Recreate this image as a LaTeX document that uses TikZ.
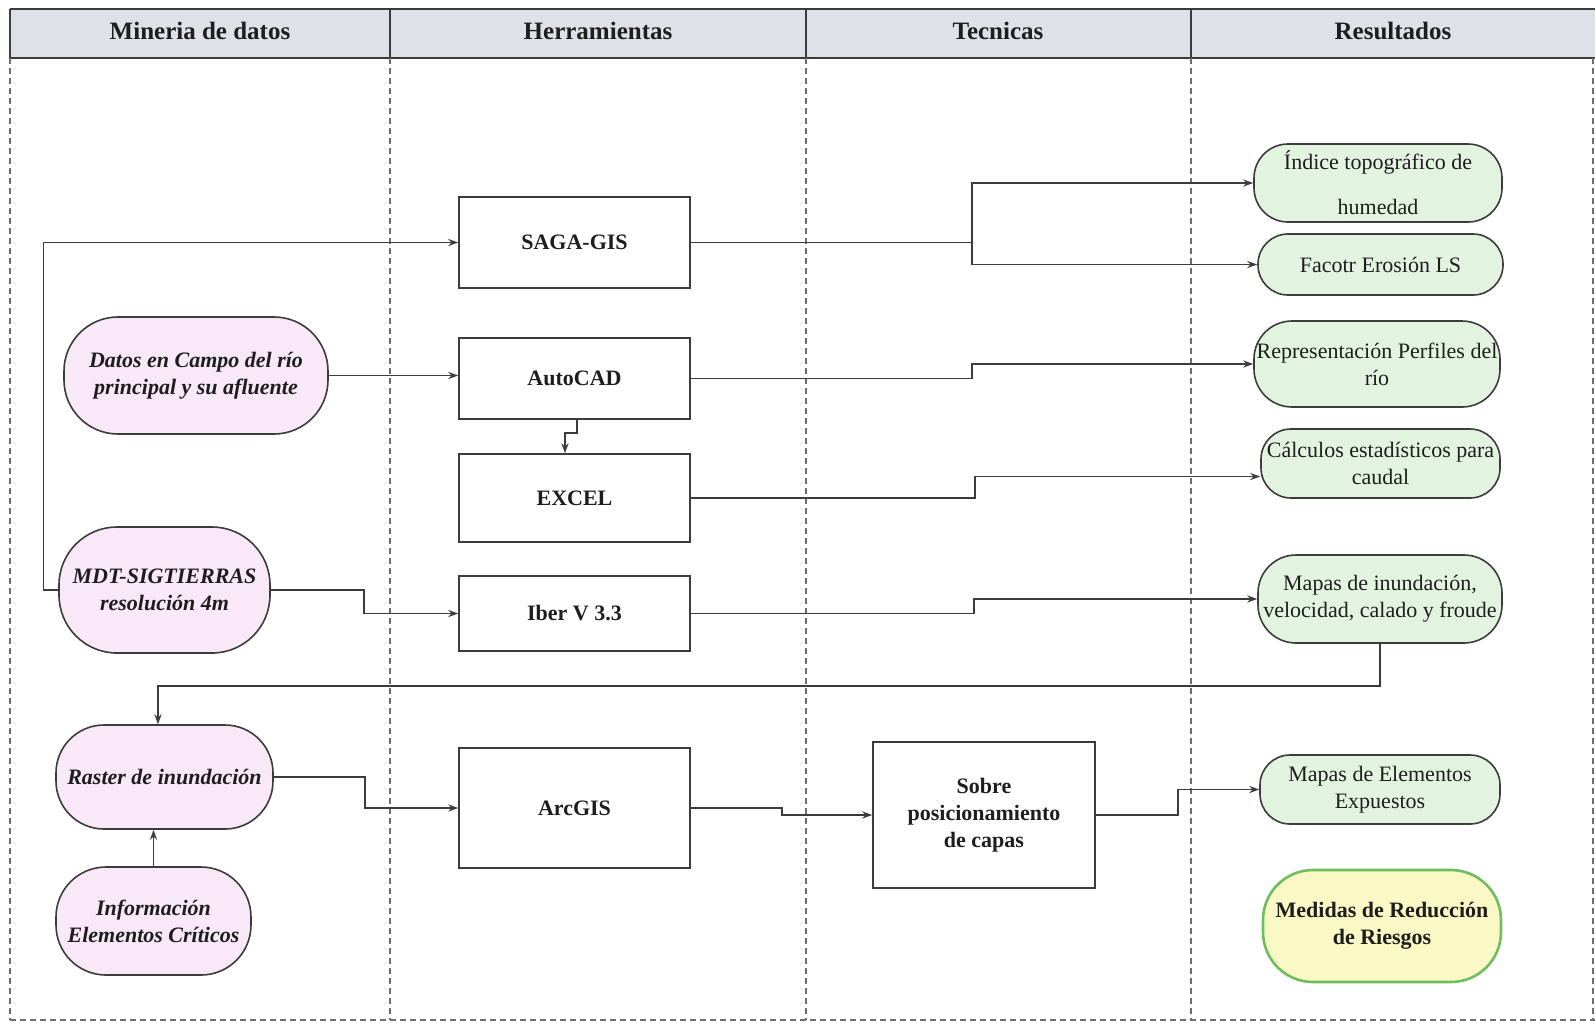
\documentclass[tikz,border=0pt]{standalone}
\usepackage{fontspec}
\setmainfont{Liberation Serif}
\usetikzlibrary{arrows.meta,calc}
\definecolor{hdr}{RGB}{223,225,232}
\definecolor{linec}{RGB}{60,60,60}
\definecolor{dashc}{RGB}{110,110,110}
\definecolor{pinkf}{RGB}{248,232,248}
\definecolor{greenf}{RGB}{226,243,224}
\definecolor{yelf}{RGB}{250,248,196}
\definecolor{yelb}{RGB}{110,190,95}
\definecolor{txt}{RGB}{30,30,30}
\newcommand{\fsz}{\fontsize{11}{13.5}\selectfont}
\begin{document}
\begin{tikzpicture}[x=0.5pt,y=-0.5pt,
  conn/.style={draw=linec,line width=0.7pt},
  arr/.style={conn,-{Stealth[length=5pt,width=3.6pt]}},
  toolbox/.style={draw=linec,line width=0.8pt,fill=white,font=\fsz\bfseries,text=txt,align=center,inner sep=2pt},
  pinkn/.style={draw=linec,line width=0.8pt,fill=pinkf,font=\fsz\bfseries\itshape,text=txt,align=center,inner sep=1pt},
  greenn/.style={draw=linec,line width=0.8pt,fill=greenf,rounded corners=15pt,font=\fsz,text=txt,align=center,inner sep=0pt},
  lane/.style={draw=dashc,line width=0.6pt,dash pattern=on 3pt off 2pt},
  hdrtxt/.style={font=\fontsize{12.5}{15}\selectfont\bfseries,text=txt}]
\useasboundingbox (0,0) rectangle (1595,1024);
% header
\fill[hdr] (10,9) rectangle (1595,58);
\draw[linec,line width=0.8pt] (10,9) -- (1595,9);
\draw[linec,line width=1.4pt] (10,58) -- (1595,58);
\draw[linec,line width=0.8pt] (10,9) -- (10,58);
\foreach \xx in {390,806,1191} \draw[linec,line width=0.8pt] (\xx,9) -- (\xx,58);
\node[hdrtxt] (h1) at (200,31) {Mineria de datos};
\node[hdrtxt] (h2) at (598,31) {Herramientas};
\node[hdrtxt] (h3) at (998,31) {Tecnicas};
\node[hdrtxt] (h4) at (1393,31) {Resultados};
% lanes
\foreach \xx in {10,390,806,1191,1593} \draw[lane] (\xx,58) -- (\xx,1020);
\draw[lane] (10,1020) -- (1595,1020);
% left column nodes
\node[pinkn,rounded corners=27pt,minimum width=132pt,minimum height=58.5pt] (datos) at (196,375.5) {Datos en Campo del río\\principal y su afluente};
\node[pinkn,rounded corners=29pt,minimum width=105.5pt,minimum height=63pt] (mdt) at (164.5,590) {MDT-SIGTIERRAS\\resolución 4m};
\node[pinkn,rounded corners=24pt,minimum width=108.5pt,minimum height=52pt] (raster) at (164.5,777) {Raster de inundación};
\node[pinkn,rounded corners=25pt,minimum width=97.5pt,minimum height=54pt] (info) at (153.5,921) {Información\\Elementos Críticos};
% tools
\node[toolbox,minimum width=115.5pt,minimum height=45.5pt] (saga) at (574.5,242.5) {SAGA-GIS};
\node[toolbox,minimum width=115.5pt,minimum height=40.5pt] (autocad) at (574.5,378.5) {AutoCAD};
\node[toolbox,minimum width=115.5pt,minimum height=44pt] (excel) at (574.5,498) {EXCEL};
\node[toolbox,minimum width=115.5pt,minimum height=37.5pt] (iber) at (574.5,613.5) {Iber V 3.3};
\node[toolbox,minimum width=115.5pt,minimum height=60pt] (arcgis) at (574.5,808) {ArcGIS};
\node[toolbox,minimum width=111pt,minimum height=73pt] (sobre) at (984,815) {Sobre\\posicionamiento\\de capas};
% results
\node[greenn,rounded corners=17pt,minimum width=124pt,minimum height=39pt] (indice) at (1378,183) {Índice topográfico de\\[9pt]humedad};
\node[greenn,minimum width=122.5pt,minimum height=30.5pt] (facotr) at (1380.5,264.5) {Facotr Erosión LS};
\node[greenn,rounded corners=19pt,minimum width=123pt,minimum height=43pt] (repr) at (1377,364) {Representación Perfiles del\\río};
\node[greenn,minimum width=119.5pt,minimum height=34.5pt] (calc) at (1380.5,463.5) {Cálculos estadísticos para\\caudal};
\node[greenn,rounded corners=19pt,minimum width=122pt,minimum height=44pt] (mapinund) at (1380,599) {Mapas de inundación,\\velocidad, calado y froude};
\node[greenn,minimum width=120pt,minimum height=34.5pt] (mapelem) at (1380,789.5) {Mapas de Elementos\\Expuestos};
\node[draw=yelb,line width=1.3pt,fill=yelf,rounded corners=25pt,font=\fsz\bfseries,text=txt,align=center,inner sep=0pt,minimum width=119pt,minimum height=56pt] (medidas) at (1382,926) {Medidas de Reducción\\de Riesgos};
% connectors
\draw[arr] (mdt.west) -- ++(-15,0) |- (saga.west);
\draw[arr] (datos.east) -- (datos.east -| autocad.west);
\draw[arr] (mdt.east) -- ++(93,0) |- (iber.west);
\draw[arr] ([xshift=1.25pt]autocad.south) -- ++(0,13) -| ([xshift=-4.75pt]excel.north);
\draw[arr] (saga.east) -- ++(281,0) |- (indice.west);
\draw[arr] (saga.east) -- ++(281,0) |- (facotr.west);
\draw[arr] (autocad.east) -- ++(281,0) |- (repr.west);
\draw[arr] (excel.east) -- ++(284,0) |- ([yshift=-6.5pt]calc.west);
\draw[arr] (iber.east) -- ++(283,0) |- (mapinund.west);
\draw[arr] (mapinund.south) -- ++(0,42) -| ([xshift=-3.25pt]raster.north);
\draw[arr] (info.north) -- (info.north |- raster.south);
\draw[arr] (raster.east) -- ++(91,0) |- (arcgis.west);
\draw[arr] (arcgis.east) -- ++(91,0) |- (sobre.west);
\draw[arr] (sobre.east) -- ++(82,0) |- (mapelem.west);
\end{tikzpicture}
\end{document}
